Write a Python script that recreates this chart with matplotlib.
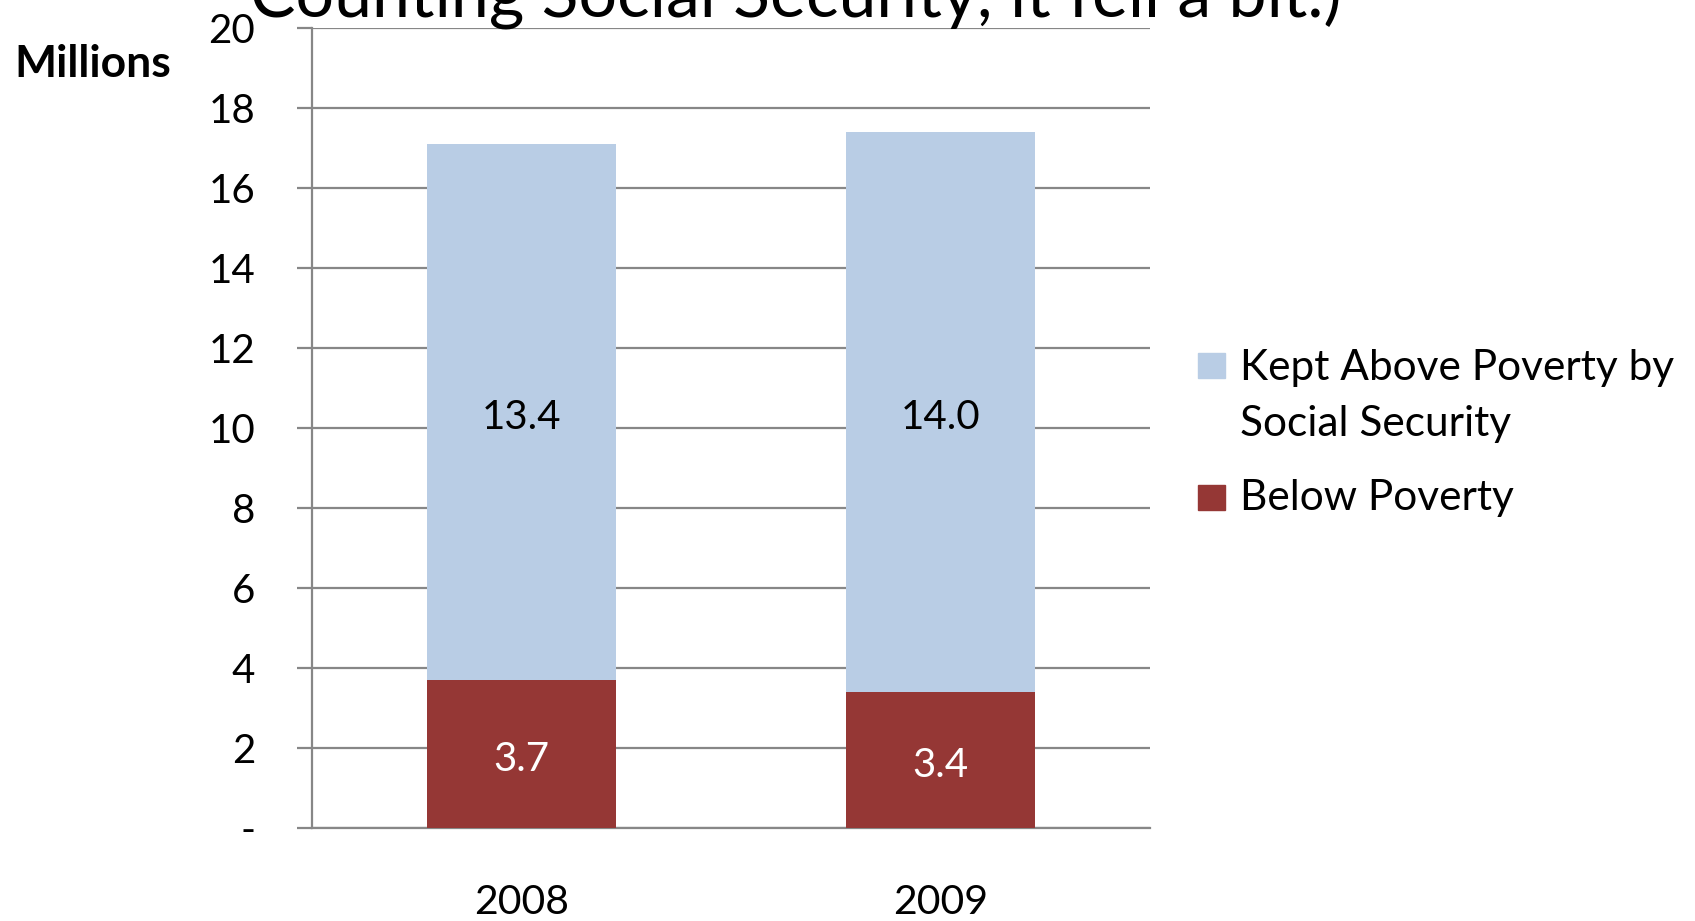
import matplotlib
matplotlib.use("Agg")
import matplotlib.pyplot as plt
from matplotlib.patches import Rectangle

plt.rcParams['font.family'] = ['Lato', 'DejaVu Sans']

years = ["2008", "2009"]
below_poverty = [3.7, 3.4]
kept_above = [13.4, 14.0]
y_ticks = [0, 2, 4, 6, 8, 10, 12, 14, 16, 18, 20]
y_tick_labels = ["-", "2", "4", "6", "8", "10", "12", "14", "16", "18", "20"]
series_names = ["Kept Above Poverty by\nSocial Security", "Below Poverty"]
title_text = "Counting Social Security, it fell a bit.)"

c_kept = "#B9CDE5"
c_below = "#953735"
grid_c = "#878787"

W, H = 1695, 921
fig = plt.figure(figsize=(W / 100, H / 100), dpi=100)
ax = fig.add_axes([312 / W, 1 - 828 / H, (1150 - 312) / W, (828 - 28) / H])

x = list(range(len(years)))
b1 = ax.bar(x, below_poverty, width=0.45, color=c_below, zorder=3)
b2 = ax.bar(x, kept_above, width=0.45, bottom=below_poverty, color=c_kept, zorder=3)

labs = ax.bar_label(b1, fmt="%.1f", label_type="center", color="white", fontsize=29)
labs += ax.bar_label(b2, fmt="%.1f", label_type="center", color="black", fontsize=29)
for t in labs:
    t.xyann = (0, -4)

ax.set_xlim(-0.5, 1.5)
ax.set_ylim(0, 20)
ax.set_yticks(y_ticks)
ax.set_yticklabels(y_tick_labels, fontsize=29)
ax.set_xticks(x)
ax.set_xticklabels(years, fontsize=29.5)
ax.yaxis.grid(True, color=grid_c, linewidth=1.6, zorder=0)
ax.set_axisbelow(True)
for s in ["top", "right"]:
    ax.spines[s].set_visible(False)
ax.spines["left"].set_color(grid_c)
ax.spines["left"].set_linewidth(1.6)
ax.spines["bottom"].set_color(grid_c)
ax.spines["bottom"].set_linewidth(1.6)
ax.tick_params(axis="y", length=11, width=1.6, color=grid_c, pad=30)
ax.tick_params(axis="x", length=0, pad=40)

# title (top partly cut off, as in the reference)
fig.text(796 / W, 1 - 18 / H, title_text, ha="center", va="baseline", fontsize=49)
fig.text(14 / W, 1 - 77 / H, "Millions", ha="left", va="baseline", fontsize=32, fontweight="bold")

# legend
leg_fs = 30.5
def patch(y_top, color):
    fig.add_artist(Rectangle((1198 / W, 1 - (y_top + 25) / H), 27 / W, 25 / H,
                             transform=fig.transFigure, color=color))
patch(353, c_kept)
for i, line in enumerate(series_names[0].split("\n")):
    fig.text(1240 / W, 1 - (380 + 56 * i) / H, line, ha="left", va="baseline", fontsize=leg_fs)
patch(485, c_below)
fig.text(1240 / W, 1 - 510 / H, series_names[1], ha="left", va="baseline", fontsize=leg_fs)

fig.savefig("out.png", dpi=100)
